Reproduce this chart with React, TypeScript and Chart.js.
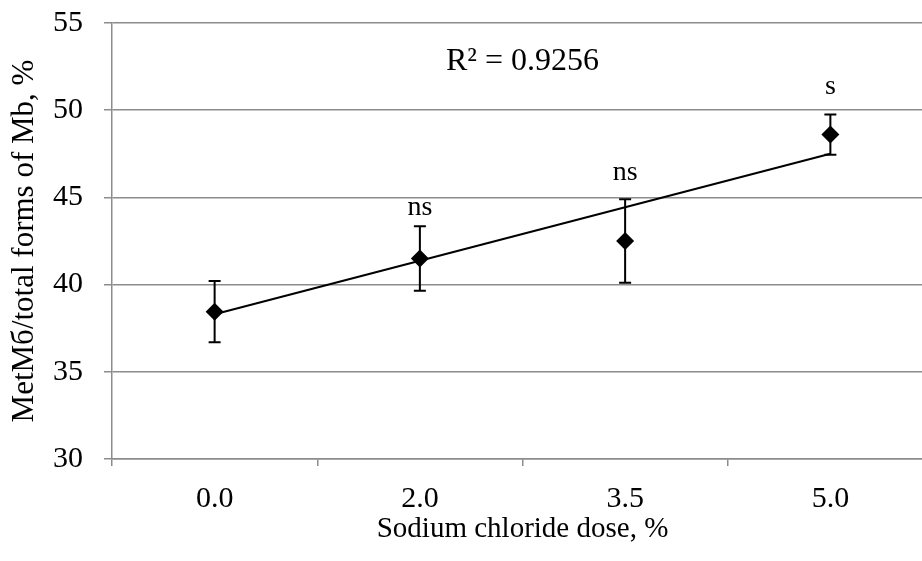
import React, { useEffect, useRef } from "react";
import { Chart, registerables } from "chart.js";

Chart.register(...registerables);

const categories = ["0.0", "2.0", "3.5", "5.0"];
const means = [38.45, 41.5, 42.5, 48.6];
const errors = [1.75, 1.85, 2.4, 1.15];
const significance = ["", "ns", "ns", "s"];
const significanceY = [null, 44.0, 46.0, 50.95];
const trendValues = [38.3, null, null, 47.5];
const yTicks = [30, 35, 40, 45, 50, 55];
const r2Text = "R² = 0.9256";
const r2Anchor = { x: 1.5, y: 52.3 };
const xTitle = "Sodium chloride dose, %";
const yTitle = "MetMб/total forms of Mb, %";

const FONT = "'Liberation Serif', 'Times New Roman', serif";
const GRID = "#8c8c8c";
const CANVAS_W = 942;
const CANVAS_H = 561;

const overlayPlugin = {
  id: "overlay",
  afterDatasetsDraw(chart: any) {
    const { ctx, scales } = chart;
    const xs = scales.x;
    const ys = scales.y;
    ctx.save();
    ctx.strokeStyle = "#000";
    ctx.lineWidth = 2;
    means.forEach((m, i) => {
      const x = xs.getPixelForValue(i);
      const yTop = ys.getPixelForValue(m + errors[i]);
      const yBot = ys.getPixelForValue(m - errors[i]);
      ctx.beginPath();
      ctx.moveTo(x, yTop);
      ctx.lineTo(x, yBot);
      ctx.moveTo(x - 6, yTop);
      ctx.lineTo(x + 6, yTop);
      ctx.moveTo(x - 6, yBot);
      ctx.lineTo(x + 6, yBot);
      ctx.stroke();
    });
    ctx.fillStyle = "#000";
    ctx.textAlign = "center";
    ctx.textBaseline = "alphabetic";
    ctx.font = `28px ${FONT}`;
    significance.forEach((s, i) => {
      const v = significanceY[i];
      if (!s || v == null) return;
      ctx.fillText(s, xs.getPixelForValue(i), ys.getPixelForValue(v));
    });
    ctx.font = `32px ${FONT}`;
    ctx.fillText(r2Text, xs.getPixelForValue(r2Anchor.x), ys.getPixelForValue(r2Anchor.y));
    ctx.restore();
  },
};

export default function App() {
  const canvasRef = useRef<HTMLCanvasElement | null>(null);

  useEffect(() => {
    if (!canvasRef.current) return;
    const chart = new Chart(canvasRef.current, {
      type: "line",
      data: {
        labels: categories,
        datasets: [
          {
            label: "Trend",
            data: trendValues,
            borderColor: "#000",
            borderWidth: 2,
            pointRadius: 0,
            spanGaps: true,
            fill: false,
            order: 2,
          },
          {
            label: "Mean",
            data: means,
            showLine: false,
            pointStyle: "rectRot",
            pointRadius: 9,
            pointBackgroundColor: "#000",
            pointBorderColor: "#000",
            pointBorderWidth: 0,
            order: 1,
          },
        ],
      },
      options: {
        animation: false,
        responsive: false,
        layout: { padding: { top: 23, right: 0, left: 0, bottom: 0 } },
        plugins: {
          legend: { display: false },
          tooltip: { enabled: false },
        },
        scales: {
          x: {
            type: "category",
            offset: true,
            afterFit: (scale: any) => {
              scale.height = 102;
              scale.paddingLeft = 0;
              scale.paddingRight = 0;
            },
            grid: {
              offset: true,
              drawOnChartArea: false,
              drawTicks: true,
              tickLength: 7,
              color: GRID,
              lineWidth: 1.5,
            },
            border: { display: true, color: GRID, width: 1.5 },
            ticks: {
              color: "#000",
              padding: 15,
              font: { family: FONT, size: 30 },
            },
            title: {
              display: true,
              text: xTitle,
              color: "#000",
              font: { family: FONT, size: 29 },
              padding: { top: 0, bottom: 14 },
            },
          },
          y: {
            min: 30,
            max: 55,
            afterFit: (scale: any) => {
              scale.width = 112;
              scale.paddingTop = 0;
              scale.paddingBottom = 0;
            },
            afterBuildTicks: (scale: any) => {
              scale.ticks = yTicks.map((v) => ({ value: v }));
            },
            grid: {
              color: GRID,
              lineWidth: 1.5,
              drawTicks: true,
              tickLength: 8,
            },
            border: { display: true, color: GRID, width: 1.5 },
            ticks: {
              color: "#000",
              padding: 21,
              font: { family: FONT, size: 30 },
            },
            title: {
              display: true,
              text: yTitle,
              color: "#000",
              font: { family: FONT, size: 31 },
              padding: { top: 6, bottom: 0 },
            },
          },
        },
      },
      plugins: [overlayPlugin],
    });
    return () => chart.destroy();
  }, []);

  return (
    <div
      style={{
        position: "fixed",
        left: 0,
        top: 0,
        width: 922,
        height: 561,
        overflow: "hidden",
        background: "#fff",
      }}
    >
      <canvas
        ref={canvasRef}
        width={CANVAS_W}
        height={CANVAS_H}
        style={{ display: "block", width: CANVAS_W, height: CANVAS_H }}
      />
    </div>
  );
}
